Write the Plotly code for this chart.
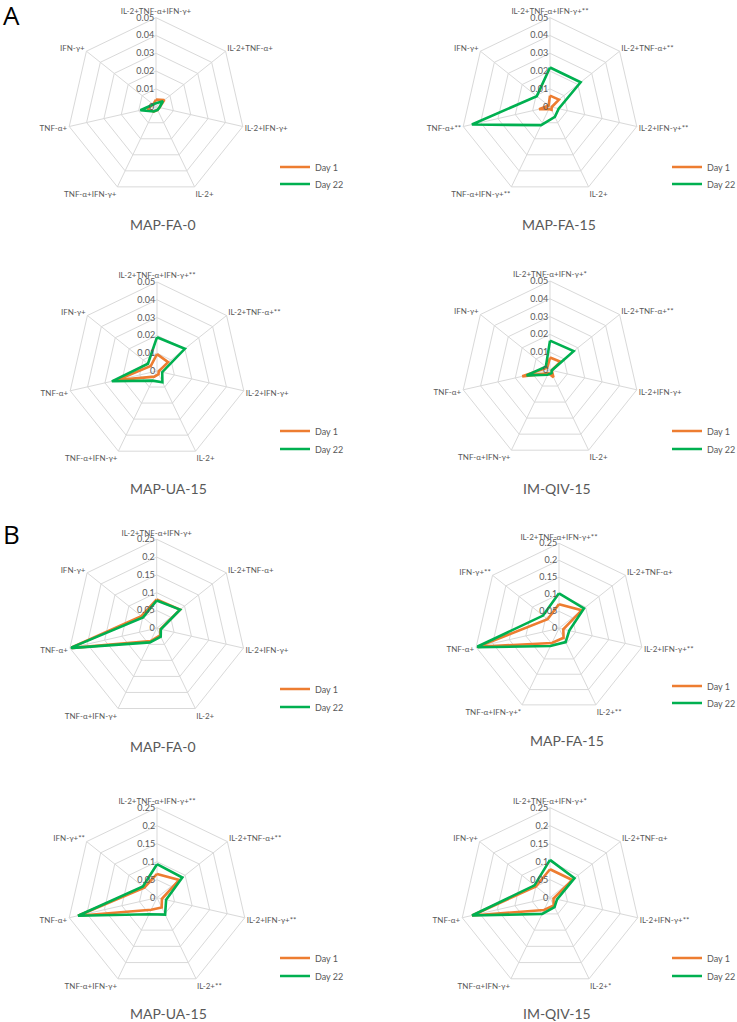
import plotly.graph_objects as go

W, H = 737, 1022

categories = ["IL-2+TNF-α+IFN-γ+", "IL-2+TNF-α+", "IL-2+IFN-γ+", "IL-2+",
              "TNF-α+IFN-γ+", "TNF-α+", "IFN-γ+"]
series_names = ["Day 1", "Day 22"]
chart_titles = ["MAP-FA-0", "MAP-FA-15", "MAP-UA-15", "IM-QIV-15",
                "MAP-FA-0", "MAP-FA-15", "MAP-UA-15", "IM-QIV-15"]

# significance marks per category (order as categories)
marks_A1 = ["", "", "", "", "", "", ""]
marks_A2 = ["**", "**", "**", "", "**", "**", ""]
marks_A3 = ["**", "**", "", "", "", "", ""]
marks_A4 = ["*", "**", "", "", "", "", ""]
marks_B1 = ["", "", "", "", "", "", ""]
marks_B2 = ["**", "", "**", "**", "*", "", "**"]
marks_B3 = ["**", "**", "**", "**", "", "", "**"]
marks_B4 = ["*", "", "**", "*", "", "", ""]

# values: Day 1 / Day 22
A1_day1 = [0.004, 0.006, 0.002, 0.002, 0.003, 0.005, 0.002]
A1_day22 = [0.002, 0.005, 0.002, 0.002, 0.003, 0.009, 0.002]
A2_day1 = [0.0062, 0.0064, 0.001, 0.002, 0.0015, 0.0063, 0.001]
A2_day22 = [0.022, 0.022, 0.005, 0.0063, 0.0115, 0.045, 0.0095]
A3_day1 = [0.0095, 0.008, 0.001, 0.002, 0.0035, 0.023, 0.0045]
A3_day22 = [0.019, 0.020, 0.003, 0.007, 0.006, 0.026, 0.0065]
A4_day1 = [0.007, 0.0075, 0.001, 0.0045, 0.002, 0.016, 0.002]
A4_day22 = [0.0165, 0.017, 0.001, 0.002, 0.003, 0.0135, 0.003]
B1_day1 = [0.081, 0.084, 0.011, 0.022, 0.040, 0.250, 0.055]
B1_day22 = [0.078, 0.084, 0.012, 0.026, 0.044, 0.250, 0.049]
B2_day1 = [0.071, 0.085, 0.013, 0.031, 0.048, 0.245, 0.043]
B2_day22 = [0.103, 0.094, 0.031, 0.045, 0.058, 0.250, 0.060]
B3_day1 = [0.066, 0.079, 0.014, 0.030, 0.037, 0.225, 0.045]
B3_day22 = [0.093, 0.090, 0.026, 0.052, 0.051, 0.225, 0.050]
B4_day1 = [0.079, 0.079, 0.010, 0.024, 0.038, 0.222, 0.050]
B4_day22 = [0.105, 0.087, 0.020, 0.029, 0.050, 0.222, 0.055]

radial_max_A = 0.05
radial_step_A = 0.01
radial_max_B = 0.25
radial_step_B = 0.05

charts = [
    (A1_day1, A1_day22, marks_A1, radial_max_A, radial_step_A),
    (A2_day1, A2_day22, marks_A2, radial_max_A, radial_step_A),
    (A3_day1, A3_day22, marks_A3, radial_max_A, radial_step_A),
    (A4_day1, A4_day22, marks_A4, radial_max_A, radial_step_A),
    (B1_day1, B1_day22, marks_B1, radial_max_B, radial_step_B),
    (B2_day1, B2_day22, marks_B2, radial_max_B, radial_step_B),
    (B3_day1, B3_day22, marks_B3, radial_max_B, radial_step_B),
    (B4_day1, B4_day22, marks_B4, radial_max_B, radial_step_B),
]

# layout geometry (pixels): centre x, centre y, radius
geom = [(156, 106.7, 89), (550, 106.7, 89), (157, 371, 89), (550, 370, 89),
        (156.7, 628.3, 89), (559, 628.3, 85), (157, 897.7, 90), (550, 897.7, 90)]
# legend text start x, Day 1 row y, Day 22 row y
legend_pos = [(315, 167, 184), (707, 167, 184), (315, 431, 449), (707, 431, 449),
              (315, 689, 707), (707, 686, 703), (315, 958, 976), (707, 958, 976)]
title_pos = [(163, 225), (559, 225), (168, 488), (557, 488),
             (163, 746), (567, 740), (168, 1013), (557, 1013)]

colors = ["#ED7D31", "#00B050"]
grid = "#D9D9D9"
txt = "#595959"
FONT = "Lato, 'Open Sans', sans-serif"

fig = go.Figure()
layout = dict(
    width=W, height=H, margin=dict(l=0, r=0, t=0, b=0, autoexpand=False),
    paper_bgcolor="white", plot_bgcolor="white",
    font=dict(family=FONT, size=9, color=txt),
    annotations=[],
)

for i, (d1, d22, marks, rmax, rstep) in enumerate(charts):
    pid = "polar" if i == 0 else f"polar{i+1}"
    labels = [c + m for c, m in zip(categories, marks)]
    lx, ly1, ly2 = legend_pos[i]
    for s, vals in enumerate([d1, d22]):
        k = 2 * i + s + 1
        lid = "legend" if k == 1 else f"legend{k}"
        fig.add_trace(go.Scatterpolar(
            r=vals + vals[:1], theta=labels + labels[:1],
            mode="lines", name=series_names[s],
            line=dict(color=colors[s], width=2.6),
            subplot=pid, legend=lid, showlegend=True,
        ))
        layout[lid] = dict(x=(lx - 40) / W, y=1 - (ly1 if s == 0 else ly2) / H,
                           xanchor="left", yanchor="middle",
                           bgcolor="rgba(0,0,0,0)",
                           font=dict(size=9, color=txt, family=FONT),
                           itemwidth=30)
    cx, cy, R = geom[i]
    layout[pid] = dict(
        domain=dict(x=[(cx - R) / W, (cx + R) / W],
                    y=[1 - (cy + R) / H, 1 - (cy - R) / H]),
        gridshape="linear", bgcolor="white",
        angularaxis=dict(rotation=90, direction="clockwise", type="category",
                         categoryorder="array", categoryarray=labels,
                         showline=True, linecolor=grid, linewidth=1,
                         gridcolor=grid, gridwidth=1, ticks="",
                         tickfont=dict(size=8, color=txt, family=FONT)),
        radialaxis=dict(range=[0, rmax], dtick=rstep, tick0=0, angle=90,
                        showline=False, ticks="", gridcolor=grid, gridwidth=1,
                        side="counterclockwise", tickangle=90,
                        tickfont=dict(size=9, color=txt, family=FONT)),
    )
    tx, ty = title_pos[i]
    layout["annotations"].append(dict(
        x=tx / W, y=1 - ty / H, xref="paper", yref="paper", text=chart_titles[i],
        showarrow=False, font=dict(size=14, color=txt, family=FONT),
        xanchor="center", yanchor="middle"))

layout["annotations"].append(dict(x=1 / W, y=1 - 15 / H, xref="paper", yref="paper", text="A",
                                  showarrow=False, xanchor="left", yanchor="middle",
                                  font=dict(size=26, color="black", family="'Open Sans', sans-serif")))
layout["annotations"].append(dict(x=1 / W, y=1 - 534 / H, xref="paper", yref="paper", text="B",
                                  showarrow=False, xanchor="left", yanchor="middle",
                                  font=dict(size=26, color="black", family="'Open Sans', sans-serif")))

fig.update_layout(**layout)
fig.write_html("out.html", config={"displayModeBar": False},
               post_script="document.body.style.margin='0';document.body.style.overflow='hidden';")
